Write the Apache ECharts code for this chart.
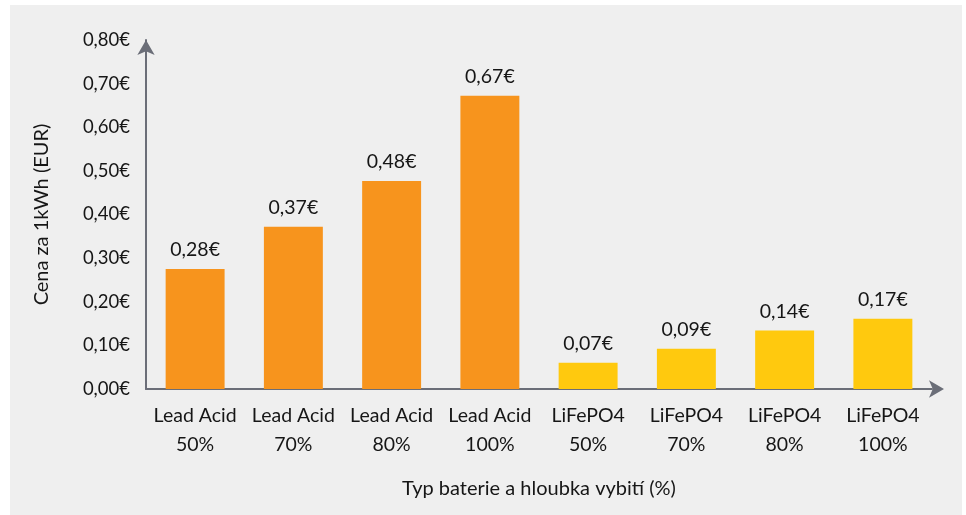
<!DOCTYPE html>
<html>
<head>
<meta charset="utf-8">
<script src="https://cdn.jsdelivr.net/npm/echarts@6/dist/echarts.min.js"></script>
<style>
  html, body { margin: 0; padding: 0; background: #ffffff; }
  #chart { position: absolute; left: 10px; top: 5px; width: 952px; height: 510px; background: #efefef; }
</style>
</head>
<body>
<div id="chart"></div>
<script>
// kategorie a hodnoty
const categories = ['Lead Acid\n50%', 'Lead Acid\n70%', 'Lead Acid\n80%', 'Lead Acid\n100%',
  'LiFePO4\n50%', 'LiFePO4\n70%', 'LiFePO4\n80%', 'LiFePO4\n100%'];
const prices = [0.275, 0.372, 0.477, 0.672, 0.06, 0.092, 0.134, 0.161];
const priceLabels = ['0,28€', '0,37€', '0,48€', '0,67€', '0,07€', '0,09€', '0,14€', '0,17€'];
const barColors = ['#f7941d', '#f7941d', '#f7941d', '#f7941d', '#ffc90e', '#ffc90e', '#ffc90e', '#ffc90e'];
const yTicks = [0, 0.1, 0.2, 0.3, 0.4, 0.5, 0.6, 0.7, 0.8];

const font = 'Lato, "Open Sans", sans-serif';
const axisColor = '#6b6e78';
const textColor = '#161616';

const chart = echarts.init(document.getElementById('chart'));

const option = {
  animation: false,
  grid: { left: 136, right: 30, top: 35, bottom: 126, containLabel: false },
  xAxis: {
    type: 'category',
    data: categories,
    name: 'Typ baterie a hloubka vybití (%)',
    nameLocation: 'middle',
    nameGap: 90,
    nameTextStyle: { fontFamily: font, fontSize: 20, color: textColor },
    axisLine: {
      lineStyle: { color: axisColor, width: 2 },
      symbol: ['none', 'arrow'],
      symbolSize: [13, 15],
      symbolOffset: [0, 12]
    },
    axisTick: { show: false },
    axisLabel: { fontFamily: font, fontSize: 19.5, color: textColor, lineHeight: 29, margin: 12, interval: 0 }
  },
  yAxis: {
    type: 'value',
    min: 0,
    max: 0.8,
    interval: 0.1,
    name: 'Cena za 1kWh (EUR)',
    nameLocation: 'middle',
    nameGap: 94,
    nameRotate: 90,
    nameTextStyle: { fontFamily: font, fontSize: 20, color: textColor },
    axisLine: {
      show: true,
      lineStyle: { color: axisColor, width: 2 },
      symbol: ['none', 'arrow'],
      symbolSize: [13, 15],
      symbolOffset: [0, 0]
    },
    axisTick: { show: false },
    splitLine: { show: false },
    axisLabel: {
      fontFamily: font, fontSize: 18.5, color: textColor, margin: 16,
      formatter: v => {
        const t = yTicks.find(x => Math.abs(x - v) < 1e-9);
        return (t !== undefined ? t : v).toFixed(2).replace('.', ',') + '€';
      }
    }
  },
  series: [{
    type: 'bar',
    barWidth: '60%',
    data: prices.map((v, i) => ({ value: v, itemStyle: { color: barColors[i] } })),
    label: {
      show: true,
      position: 'top',
      distance: 9,
      fontFamily: font,
      fontSize: 19.5,
      color: textColor,
      formatter: p => priceLabels[p.dataIndex]
    }
  }]
};

chart.setOption(option);
</script>
</body>
</html>
